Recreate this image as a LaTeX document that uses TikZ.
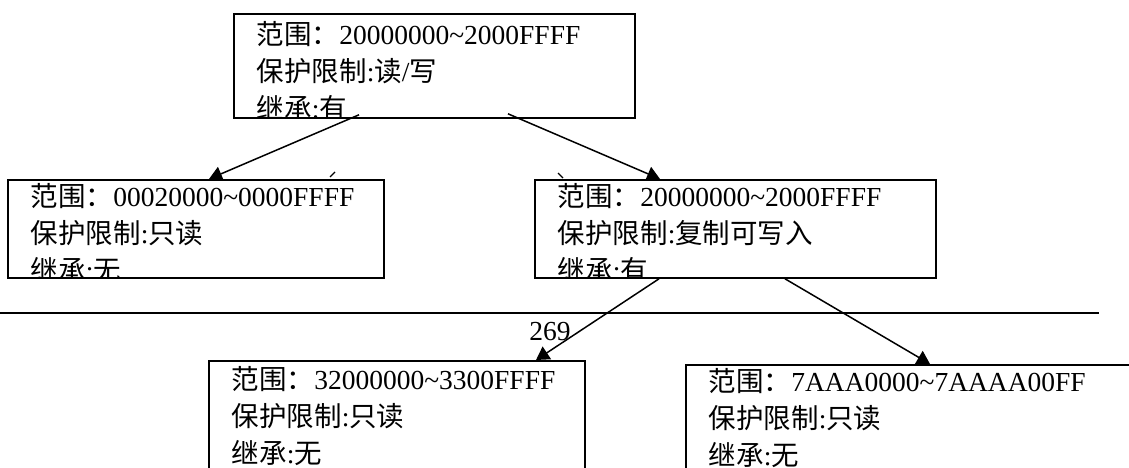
\documentclass[tikz,border=0pt]{standalone}
\usepackage{fontspec}
\setmainfont{Liberation Serif}
\newfontfamily\cjk{Noto Sans CJK SC}
\usetikzlibrary{arrows.meta}

\begin{document}
\begin{tikzpicture}[
  x=1pt, y=-1pt,
  font=\fontsize{27.5}{37}\selectfont,
  region/.style 2 args={draw, line width=1.8pt, anchor=north west, inner sep=0pt,
    path picture={\node[draw=none, anchor=north west, align=left, inner sep=0pt,
        minimum width=0pt, minimum height=0pt]
      at ([shift={(22,#1)}]path picture bounding box.north west) {#2};}},
  arr/.style={-{Triangle[length=13pt, width=15pt]}, line width=1.5pt},
  tick/.style={line width=1.2pt},
  rule/.style={line width=2.6pt}
]
\useasboundingbox (0,0) rectangle (1129,468);

% level 0: the whole region
\node[region={7}{{\cjk 范围：}20000000\textasciitilde 2000FFFF\\{\cjk 保护限制}:{\cjk 读}/{\cjk 写}\\{\cjk 继承}:{\cjk 有}},
      minimum width=401pt, minimum height=104pt] (parent) at (233,13) {};

% level 1
\node[region={3}{{\cjk 范围：}00020000\textasciitilde 0000FFFF\\{\cjk 保护限制}:{\cjk 只读}\\{\cjk 继承}:{\cjk 无}},
      minimum width=376pt, minimum height=98pt] (childA) at (7,179) {};
\node[region={3}{{\cjk 范围：}20000000\textasciitilde 2000FFFF\\{\cjk 保护限制}:{\cjk 复制可写入}\\{\cjk 继承}:{\cjk 有}},
      minimum width=401pt, minimum height=98pt] (childB) at (534,179) {};

\draw[arr] ([shift={(126,-4)}]parent.south west) -- ([xshift=202pt]childA.north west);
\draw[arr] ([shift={(275,-5)}]parent.south west) -- ([xshift=126pt]childB.north west);
\draw[tick] ([shift={(323,-2)}]childA.north west) -- ++(5,-5);
\draw[tick] ([shift={(24,-6)}]childB.north west) -- ++(5,5);

% page break
\coordinate (ruleL) at (0,313);
\coordinate (ruleR) at (1099,313);
\draw[rule] (ruleL) -- (ruleR);
\node (pagenum) at (550,332) {269};

% level 2
\node[region={5}{{\cjk 范围：}32000000\textasciitilde 3300FFFF\\{\cjk 保护限制}:{\cjk 只读}\\{\cjk 继承}:{\cjk 无}},
      minimum width=376pt, minimum height=130pt] (grandA) at (208,360) {};
\node[region={3}{{\cjk 范围：}7AAA0000\textasciitilde 7AAAA00FF\\{\cjk 保护限制}:{\cjk 只读}\\{\cjk 继承}:{\cjk 无}},
      minimum width=470pt, minimum height=130pt] (grandB) at (685,364) {};

\draw[arr] ([xshift=125pt]childB.south west) -- ([xshift=328pt]grandA.north west);
\draw[arr] ([xshift=251pt]childB.south west) -- ([xshift=245pt]grandB.north west);

\end{tikzpicture}
\end{document}
